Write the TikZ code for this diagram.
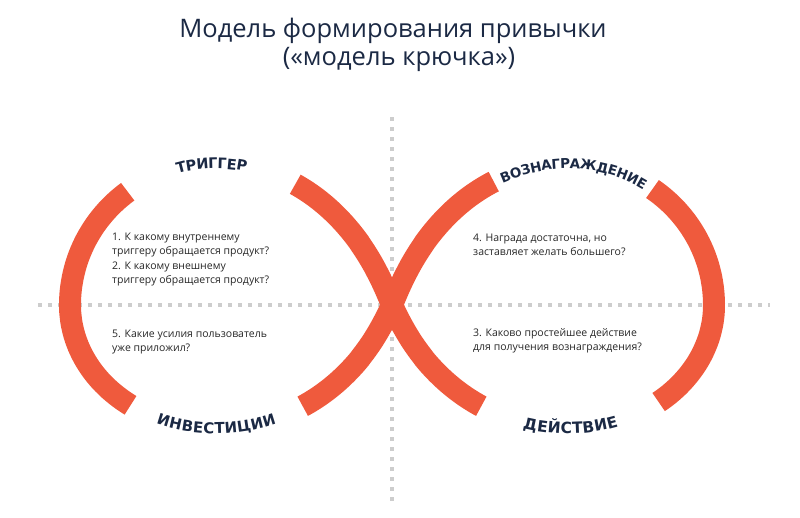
\documentclass[tikz,border=0pt]{standalone}
\usepackage{fontspec}
\setmainfont{Open Sans}
\newfontfamily\stagefont{DejaVu Sans}
\usetikzlibrary{decorations.text}
\definecolor{hookred}{HTML}{EF5A3D}
\definecolor{hookink}{HTML}{1B2944}
\definecolor{axisgray}{HTML}{CDCDCD}
\tikzset{
    declare function={
        lobe(\t)=322*pow(cos(1.3235*\t),0.75);
        lobey(\t)=((\t<0)?0.87:1)*lobe(\t)*sin(\t);
    },
    hookband/.style={draw=hookred, line width=22pt, line cap=butt},
    axisline/.style={draw=axisgray, line width=4pt, dash pattern=on 4pt off 6pt},
    question/.style={anchor=base west, align=left, inner sep=0pt, text=black!85,
        font=\fontsize{10.5}{14.3}\selectfont},
    stagelabel/.style 2 args={decorate, decoration={text along path, text align=center,
        raise=-5.5pt, text color=hookink,
        text={|\stagefont\bfseries\fontsize{#2}{#2}\selectfont|#1}}}
}
\begin{document}
\begin{tikzpicture}[x=1pt, y=1pt]
    \useasboundingbox (-392,-212) rectangle (408,305);
    % title
    \node[font=\fontsize{25.5}{25.5}\selectfont, text=hookink, anchor=base] (title) at (1,267) {Модель формирования привычки};
    \node[font=\fontsize{25.5}{25.5}\selectfont, text=hookink, anchor=base] (subtitle) at (7,239) {(«модель крючка»)};
    % dotted axes
    \coordinate (axl) at (-354,0);
    \coordinate (axr) at (378,0);
    \coordinate (axt) at (0,188);
    \coordinate (axb) at (0,-198);
    \draw[axisline] (axl) -- (axr);
    \draw[axisline] (axt) -- (axb);
    % the hook: two lobes crossing in the middle
    \begin{scope}[samples=60]
    \draw[hookband] plot[domain=-23.8:23.2] ({-lobe(\x)*cos(\x)},{lobey(\x)});
    \draw[hookband] plot[domain=-22.7:24] ({lobe(\x)*cos(\x)},{lobey(\x)});
    \draw[hookband] plot[domain=51.3:67.99] ({-lobe(\x)*cos(\x)},{lobey(\x)})
        -- plot[domain=-67.99:-52.5] ({lobe(\x)*cos(\x)},{lobey(\x)});
    \draw[hookband] plot[domain=-52.5:-67.99] ({-lobe(\x)*cos(\x)},{lobey(\x)})
        -- plot[domain=67.99:50.5] ({lobe(\x)*cos(\x)},{lobey(\x)});
    % stage names in the gaps
    \path[stagelabel={ТРИГГЕР}{14.5}] plot[domain=24:51] ({-lobe(\x)*cos(\x)},{lobey(\x)});
    \path[stagelabel={ВОЗНАГРАЖДЕНИЕ}{13.5}] plot[domain=50.5:24] ({lobe(\x)*cos(\x)},{lobey(\x)});
    \path[stagelabel={ИНВЕСТИЦИИ}{15}] plot[domain=-23.8:-52.5] ({-lobe(\x)*cos(\x)},{lobey(\x)});
    \path[stagelabel={ДЕЙСТВИЕ}{15.5}] plot[domain=-52.5:-22.7] ({lobe(\x)*cos(\x)},{lobey(\x)});
    \end{scope}
    % questions
    \node[question] (q1) at (-280,21.5) {1. К какому внутреннему\\триггеру обращается продукт?\\2. К какому внешнему\\триггеру обращается продукт?};
    \node[question] (q4) at (81,49.5) {4. Награда достаточна, но\\заставляет желать большего?};
    \node[question] (q5) at (-280,-46.5) {5. Какие усилия пользователь\\уже приложил?};
    \node[question] (q3) at (81,-45.5) {3. Каково простейшее действие\\для получения вознаграждения?};
\end{tikzpicture}
\end{document}
